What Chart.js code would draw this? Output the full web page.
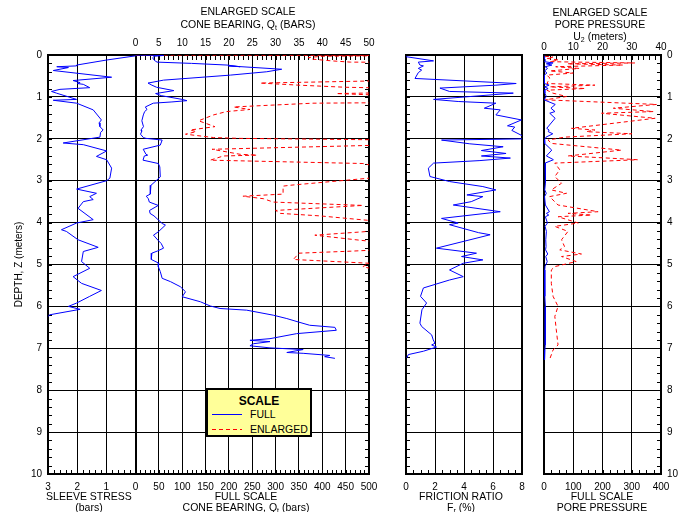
<!DOCTYPE html>
<html>
<head>
<meta charset="utf-8">
<script src="https://cdn.jsdelivr.net/npm/chart.js@4.4.1/dist/chart.umd.min.js"></script>
<style>
  html, body { margin: 0; padding: 0; background: #fff; }
  #wrap { position: relative; width: 688px; height: 512px; overflow: hidden;
          font-family: "Liberation Sans", Arial, sans-serif; font-size: 10.5px; color: #000; }
  canvas { position: absolute; left: 0; top: 0; }
  .lbl { position: absolute; width: 200px; text-align: center; white-space: nowrap; }
  .lbl sub { font-size: 7px; vertical-align: -2px; line-height: 0; }
  #key { position: absolute; left: 206px; top: 388px; width: 102px; height: 45px;
         background: #ffff99; border: 2px solid #000; }
  #key div { position: absolute; white-space: nowrap; }
</style>
</head>
<body>
<div id="wrap">
  <canvas id="c1" width="688" height="512"></canvas>
  <canvas id="c2" width="688" height="512"></canvas>
  <canvas id="c3" width="688" height="512"></canvas>

  <div class="lbl" style="left:148px; top:5px; line-height:13px">ENLARGED SCALE<br>CONE BEARING, Q<sub>t</sub> (BARS)</div>
  <div class="lbl" style="left:500px; top:6px; line-height:12px">ENLARGED SCALE<br>PORE PRESSURE<br>U<sub>2</sub> (meters)</div>
  <div class="lbl" style="left:-11px; top:491px; line-height:11px">SLEEVE STRESS<br>(bars)</div>
  <div class="lbl" style="left:146px; top:491px; line-height:11px">FULL SCALE<br>CONE BEARING, Q<sub>t</sub> (bars)</div>
  <div class="lbl" style="left:361px; top:491px; line-height:11px">FRICTION RATIO<br>F<sub>r</sub> (%)</div>
  <div class="lbl" style="left:502px; top:491px; line-height:11px">FULL SCALE<br>PORE PRESSURE</div>

  <div id="key">
    <div style="left:0; width:102px; top:4px; text-align:center; font-weight:bold; font-size:12px; line-height:14px">SCALE</div>
    <div style="left:4px; top:24px; width:30px; height:1px; background:#0000ff"></div>
    <div style="left:42px; top:18px; line-height:12px">FULL</div>
    <div style="left:4px; top:39px; width:30px; height:1px; background:repeating-linear-gradient(to right, #ff0000 0 4px, transparent 4px 7px)"></div>
    <div style="left:42px; top:33px; line-height:12px">ENLARGED</div>
  </div>
</div>

<script>
// depth (m) is shared by every panel
const sleeveDepth = [0.02, 0.12, 0.24, 0.26, 0.28, 0.30, 0.37, 0.53, 0.61, 0.66,
    0.68, 0.70, 0.78, 0.82, 0.87, 0.91, 1.06, 1.08, 1.15, 1.31,
    1.55, 1.62, 1.71, 1.79, 1.85, 1.96, 2.10, 2.14, 2.29, 2.42,
    2.50, 2.70, 2.94, 3.00, 3.20, 3.30, 3.38, 3.45, 3.50, 3.66,
    3.93, 4.01, 4.17, 4.21, 4.41, 4.59, 4.69, 4.93, 5.09, 5.29,
    5.45, 5.62, 5.76, 5.92, 6.00, 6.07, 6.20, 6.24];
const sleeveStress = [0, 0.99, 2.02, 2.02, 2.7, 2.3, 2.82, 0.82, 2.14, 1.9,
    2.0, 1.79, 1.57, 2.59, 2.88, 2.71, 2.02, 2.82, 2.02, 1.45,
    1.17, 1.25, 1.22, 1.11, 1.2, 1.22, 2.48, 1.79, 0.99, 1.34,
    0.99, 0.82, 0.88, 0.99, 2.02, 1.34, 1.57, 1.45, 1.79, 1.97,
    1.45, 2.02, 2.54, 2.37, 1.97, 1.28, 1.79, 1.85, 1.57, 2.14,
    1.85, 1.17, 1.57, 2.02, 2.3, 1.9, 2.94, 3.0];

const coneDepth = [0, 0.01, 0.03, 0.06, 0.10, 0.14, 0.17, 0.20, 0.24, 0.28,
    0.26, 0.34, 0.40, 0.48, 0.60, 0.67, 0.72, 0.77, 0.85, 0.92,
    0.97, 1.06, 1.09, 1.12, 1.15, 1.24, 1.30, 1.35, 1.43, 1.57,
    1.71, 1.79, 1.83, 1.89, 1.97, 1.99, 2.03, 2.15, 2.25, 2.37,
    2.39, 2.41, 2.51, 2.59, 2.67, 2.91, 3.11, 3.13, 3.32, 3.37,
    3.43, 3.51, 3.59, 3.71, 3.78, 3.84, 4.02, 4.06, 4.22, 4.30,
    4.42, 4.50, 4.61, 4.68, 4.73, 4.88, 4.97, 5.05, 5.17, 5.33,
    5.41, 5.53, 5.65, 5.77, 5.89, 5.99, 6.05, 6.09, 6.21, 6.29,
    6.37, 6.45, 6.50, 6.57, 6.65, 6.77, 6.81, 6.84, 6.89, 6.94,
    6.99, 7.03, 7.10, 7.12, 7.17, 7.20, 7.24];
const coneQt = [0, 60, 40, 37, 38, 42, 46, 120, 196, 224,
    199, 313, 281, 203, 60, 26.7, 35, 45, 82, 43,
    55, 100, 110, 78, 38, 21, 24.5, 19.5, 16.7, 13.5,
    17, 11.7, 13, 10.7, 16.7, 22.4, 57, 53, 16.4, 22.4,
    26, 18.8, 16, 48.7, 52, 53, 33, 31.6, 31.6, 23,
    27.4, 29.5, 48.7, 30, 31, 39.5, 57, 64, 48.7, 38.4,
    48, 55, 60, 46.5, 35, 33.8, 50, 48.7, 53, 57,
    75, 96, 107, 100, 139, 160, 181, 238, 295, 324,
    348, 373, 427, 430, 345, 288, 245, 288, 253, 245,
    288, 359, 324, 359, 416, 405, 427];

const frDepth = [0.04, 0.14, 0.17, 0.24, 0.26, 0.32, 0.36, 0.42, 0.56, 0.68,
    0.72, 0.79, 0.87, 0.91, 1.06, 1.11, 1.15, 1.27, 1.31, 1.43,
    1.55, 1.69, 1.72, 1.80, 1.96, 2.00, 2.03, 2.12, 2.19, 2.28,
    2.35, 2.41, 2.46, 2.52, 2.58, 2.70, 2.90, 3.02, 3.14, 3.22,
    3.34, 3.38, 3.50, 3.58, 3.74, 3.90, 4.01, 4.05, 4.24, 4.29,
    4.61, 4.73, 4.81, 4.89, 4.97, 5.13, 5.29, 5.37, 5.56, 5.76,
    5.92, 6.08, 6.40, 6.48, 6.68, 6.80, 6.88, 6.92, 6.97, 7.07,
    7.15, 7.23];
const frRatio = [0, 1.9, 0.85, 0.96, 1.2, 0.85, 1.08, 0.85, 0.62, 7.6,
    6.2, 2.34, 3.0, 7.4, 1.9, 3.6, 6.2, 5.4, 6.5, 6.2,
    7.96, 7.0, 7.5, 7.3, 8.2, 8.5, 2.45, 4.4, 6.7, 5.2,
    6.9, 5.2, 7.2, 5.1, 1.9, 1.54, 1.65, 3.0, 5.3, 6.2,
    4.2, 5.3, 4.5, 3.26, 6.5, 2.45, 3.6, 3.0, 5.0, 5.8,
    2.1, 4.86, 3.83, 5.3, 3.95, 3.0, 3.95, 3.0, 1.2, 1.0,
    1.42, 1.1, 0.96, 1.08, 1.77, 1.88, 2.0, 1.77, 2.1, 1.2,
    0.16, 0.05];

const u2Depth = [0.00, 0.02, 0.05, 0.08, 0.12, 0.16, 0.19, 0.21, 0.24, 0.28,
    0.32, 0.38, 0.43, 0.48, 0.55, 0.68, 0.72, 0.76, 0.80, 0.84,
    0.91, 0.99, 1.07, 1.18, 1.27, 1.35, 1.39, 1.51, 1.75, 1.79,
    1.83, 1.88, 1.96, 2.03, 2.11, 2.27, 2.41, 2.49, 2.50, 2.58,
    2.74, 2.90, 3.06, 3.22, 3.30, 3.38, 3.58, 3.74, 3.78, 3.82,
    3.86, 4.01, 4.09, 4.21, 4.41, 4.57, 4.65, 4.75, 4.81, 4.93,
    5.05, 5.13, 5.45, 5.76, 6.00, 6.24, 6.56, 6.92, 7.04, 7.27];
const u2 = [0, -1, 3, 1, 5, 2, 31, 8, 27, 4,
    12, 2, 10, 1, 2, 1, 17.4, 2, 14, 1,
    3, 7.7, 0.5, 38.5, 23.7, 37.4, 19.7, 38, 9.4, 17.4,
    14.5, 30, 7, 1.4, 2.5, 26.5, 8.2, 30, 32, 3.7,
    5.4, 3.7, 6, 2.5, 7.7, 1.9, 4.8, 18.5, 8.2, 16.2,
    4.8, 11.7, 3.7, 8.2, 6, 7, 5.4, 12.8, 6, 11,
    3.7, 2.5, 2.5, 3.1, 4.8, 3.7, 4.2, 4.8, 3.1, 1.9];

// tick labels
const sleeveTicks = [3, 2, 1];
const qtTicks = [0, 50, 100, 150, 200, 250, 300, 350, 400, 450, 500];
const qtEnlargedTicks = [0, 5, 10, 15, 20, 25, 30, 35, 40, 45, 50];

const BLUE = '#0000ff';
const RED = '#ff0000';
const SLEEVE_MAX = 3;
const QT_MAX = 500;
const Q_PER_BAR = 62.5; // width of one sleeve stress bar, in cone bearing units

Chart.defaults.font.family = '"Liberation Sans", Arial, sans-serif';
Chart.defaults.font.size = 10;
Chart.defaults.color = '#000';

function pts(depths, vals) {
    return depths.map((d, i) => ({ x: vals[i], y: d }));
}
function steps(a, b, s) {
    const out = [];
    for (let v = a; v <= b + 1e-9; v += s) out.push(+v.toFixed(3));
    return out;
}
function line(data, axis, color, dash) {
    return { data, xAxisID: axis, showLine: true, borderColor: color, borderWidth: 1,
             borderDash: dash || [], pointRadius: 0, tension: 0 };
}

// frame around the plot and the small inward ticks
const frameTicks = {
    id: 'frameTicks',
    beforeDatasetsDraw(chart, args, opts) {
        const { ctx, chartArea: a } = chart;
        ctx.save();
        ctx.strokeStyle = '#000';
        ctx.lineWidth = 1;
        (opts.marks || []).forEach(m => {
            const sc = chart.scales[m.scale];
            m.values.forEach(v => {
                const p = Math.round(sc.getPixelForValue(v)) + 0.5;
                ctx.beginPath();
                if (m.edge === 'top') { ctx.moveTo(p, a.top); ctx.lineTo(p, a.top + m.len); }
                if (m.edge === 'bottom') { ctx.moveTo(p, a.bottom); ctx.lineTo(p, a.bottom - m.len); }
                if (m.edge === 'left') { ctx.moveTo(a.left, p); ctx.lineTo(a.left + m.len, p); }
                if (m.edge === 'right') { ctx.moveTo(a.right, p); ctx.lineTo(a.right - m.len, p); }
                ctx.stroke();
            });
        });
        ctx.lineWidth = 2;
        ctx.strokeRect(a.left, a.top, a.right - a.left, a.bottom - a.top);
        ctx.restore();
    }
};

const depthMinor = steps(0.2, 9.8, 0.2);
const gridLine = { color: '#000', drawTicks: false };

function depthAxis(extra) {
    return Object.assign({
        type: 'linear', reverse: true, min: 0, max: 10,
        ticks: { stepSize: 1 },
        grid: gridLine,
        border: { display: false }
    }, extra);
}

const base = {
    responsive: false,
    animation: false,
    devicePixelRatio: 1,
    events: []
};

// sleeve stress + cone bearing
new Chart(document.getElementById('c1'), {
    type: 'scatter',
    data: {
        datasets: [
            line(pts(sleeveDepth, sleeveStress), 'xs', BLUE),
            line(pts(coneDepth, coneQt), 'x', BLUE),
            line(pts(coneDepth, coneQt), 'xe', RED, [4, 3])
        ]
    },
    options: Object.assign({}, base, {
        layout: { padding: { left: 0, right: 319, top: 0, bottom: 0 } },
        plugins: {
            legend: { display: false }, tooltip: { enabled: false },
            frameTicks: { marks: [
                { scale: 'y', edge: 'left', values: depthMinor, len: 4 },
                { scale: 'y', edge: 'right', values: depthMinor, len: 4 },
                { scale: 'xe', edge: 'top', values: steps(0, 50, 1), len: 5 },
                { scale: 'xs', edge: 'bottom', values: steps(0, 3, 0.2), len: 4 },
                { scale: 'x', edge: 'bottom', values: steps(0, 500, 10), len: 4 }
            ] }
        },
        scales: {
            x: {
                type: 'linear', position: 'bottom', min: -SLEEVE_MAX * Q_PER_BAR, max: QT_MAX,
                afterBuildTicks: s => {
                    s.ticks = sleeveTicks.map(v => -v * Q_PER_BAR).concat(qtTicks).map(v => ({ value: v }));
                },
                afterFit: s => { s.height = 38; },
                ticks: { autoSkip: false, maxRotation: 0, padding: 7,
                         callback: v => v < 0 ? String(-v / Q_PER_BAR) : String(v) },
                grid: { color: '#000', drawTicks: false,
                        lineWidth: c => (c.tick && c.tick.value === 0 ? 2 : 1) },
                border: { display: false }
            },
            xe: {
                type: 'linear', axis: 'x', position: 'top',
                min: -SLEEVE_MAX * Q_PER_BAR / 10, max: QT_MAX / 10,
                afterBuildTicks: s => { s.ticks = qtEnlargedTicks.map(v => ({ value: v })); },
                afterFit: s => { s.height = 55; },
                ticks: { autoSkip: false, maxRotation: 0, padding: 6 },
                grid: { drawOnChartArea: false, drawTicks: false },
                border: { display: false }
            },
            xs: {
                type: 'linear', axis: 'x', display: false, reverse: true,
                max: SLEEVE_MAX, min: SLEEVE_MAX - (SLEEVE_MAX * Q_PER_BAR + QT_MAX) / Q_PER_BAR
            },
            y: depthAxis({
                position: 'left',
                afterFit: s => { s.width = 48; },
                ticks: { stepSize: 1, padding: 6 },
                title: { display: true, text: 'DEPTH, Z (meters)', padding: { top: 13, bottom: 0 } }
            })
        }
    }),
    plugins: [frameTicks]
});

// friction ratio
new Chart(document.getElementById('c2'), {
    type: 'scatter',
    data: { datasets: [line(pts(frDepth, frRatio), 'x', BLUE)] },
    options: Object.assign({}, base, {
        layout: { padding: { left: 406, right: 166, top: 55, bottom: 0 } },
        plugins: {
            legend: { display: false }, tooltip: { enabled: false },
            frameTicks: { marks: [
                { scale: 'y', edge: 'left', values: depthMinor, len: 4 },
                { scale: 'x', edge: 'bottom', values: steps(0, 8, 0.5), len: 4 }
            ] }
        },
        scales: {
            x: {
                type: 'linear', position: 'bottom', min: 0, max: 8,
                afterFit: s => { s.height = 38; },
                ticks: { stepSize: 2, maxRotation: 0, padding: 7 },
                grid: gridLine, border: { display: false }
            },
            y: depthAxis({
                position: 'left',
                afterFit: s => { s.width = 0; },
                ticks: { stepSize: 1, display: false }
            })
        }
    }),
    plugins: [frameTicks]
});

// pore pressure
new Chart(document.getElementById('c3'), {
    type: 'scatter',
    data: {
        datasets: [
            line(pts(u2Depth, u2), 'x', BLUE),
            line(pts(u2Depth, u2), 'xe', RED, [4, 3])
        ]
    },
    options: Object.assign({}, base, {
        layout: { padding: { left: 544, right: 0, top: 0, bottom: 0 } },
        plugins: {
            legend: { display: false }, tooltip: { enabled: false },
            frameTicks: { marks: [
                { scale: 'y', edge: 'right', values: depthMinor, len: 4 },
                { scale: 'xe', edge: 'top', values: steps(0, 40, 2), len: 5 },
                { scale: 'x', edge: 'bottom', values: steps(0, 400, 25), len: 4 }
            ] }
        },
        scales: {
            x: {
                type: 'linear', position: 'bottom', min: 0, max: 400,
                afterFit: s => { s.height = 38; },
                ticks: { stepSize: 100, maxRotation: 0, padding: 7 },
                grid: gridLine, border: { display: false }
            },
            xe: {
                type: 'linear', axis: 'x', position: 'top', min: 0, max: 40,
                afterFit: s => { s.height = 55; },
                ticks: { stepSize: 10, maxRotation: 0, padding: 2 },
                grid: { drawOnChartArea: false, drawTicks: false },
                border: { display: false }
            },
            y: depthAxis({
                position: 'right',
                afterFit: s => { s.width = 27; },
                ticks: { stepSize: 1, padding: 6 }
            })
        }
    }),
    plugins: [frameTicks]
});
</script>
</body>
</html>
